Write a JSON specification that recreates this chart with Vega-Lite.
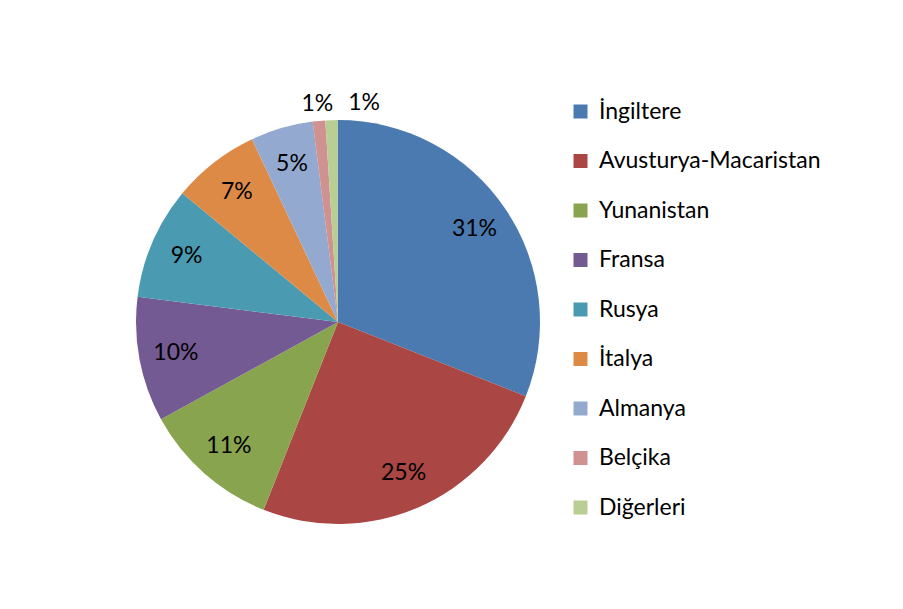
{
  "$schema": "https://vega.github.io/schema/vega-lite/v6.json",
  "width": 676,
  "height": 600,
  "padding": {"left": 0, "top": 22, "right": 227, "bottom": 0},
  "autosize": {"type": "none"},
  "background": "white",
  "config": {"view": {"stroke": null}, "font": "Lato"},
  "data": {
    "values": [
      {"country": "İngiltere", "share": 0.31, "order": 1},
      {"country": "Avusturya-Macaristan", "share": 0.25, "order": 2},
      {"country": "Yunanistan", "share": 0.11, "order": 3},
      {"country": "Fransa", "share": 0.10, "order": 4},
      {"country": "Rusya", "share": 0.09, "order": 5},
      {"country": "İtalya", "share": 0.07, "order": 6},
      {"country": "Almanya", "share": 0.05, "order": 7},
      {"country": "Belçika", "share": 0.01, "order": 8},
      {"country": "Diğerleri", "share": 0.01, "order": 9}
    ]
  },
  "encoding": {
    "theta": {"field": "share", "type": "quantitative", "stack": true},
    "order": {"field": "order", "type": "quantitative"}
  },
  "layer": [
    {
      "mark": {"type": "arc", "outerRadius": 202},
      "encoding": {
        "color": {
          "field": "country",
          "type": "nominal",
          "scale": {
            "domain": ["İngiltere", "Avusturya-Macaristan", "Yunanistan", "Fransa", "Rusya", "İtalya", "Almanya", "Belçika", "Diğerleri"],
            "range": ["#4A7AB0", "#AA4644", "#89A44E", "#735A92", "#4A9BB1", "#DE8A47", "#93A9CF", "#D09290", "#B8CE94"]
          },
          "legend": {
            "title": null,
            "orient": "none",
            "legendX": 569,
            "legendY": 78,
            "symbolType": "square",
            "symbolSize": 196,
            "symbolStrokeWidth": 0,
            "labelFontSize": 23,
            "labelFont": "Lato",
            "labelColor": "black",
            "labelOffset": 7,
            "labelLimit": 400,
            "rowPadding": 25.5
          }
        }
      }
    },
    {
      "mark": {"type": "text", "radius": 165, "fontSize": 23, "font": "Lato", "color": "black"},
      "encoding": {
        "text": {"condition": {"test": "datum.share < 0.05", "value": ""}, "field": "share", "type": "quantitative", "format": ".0%"}
      }
    },
    {
      "mark": {"type": "text", "radius": 219, "fontSize": 23, "font": "Lato", "color": "black"},
      "encoding": {
        "text": {"condition": {"test": "datum.country !== 'Belçika'", "value": ""}, "field": "share", "type": "quantitative", "format": ".0%"}
      }
    },
    {
      "mark": {"type": "text", "radius": 219, "fontSize": 23, "font": "Lato", "color": "black", "dx": 33},
      "encoding": {
        "text": {"condition": {"test": "datum.country !== 'Diğerleri'", "value": ""}, "field": "share", "type": "quantitative", "format": ".0%"}
      }
    }
  ]
}
